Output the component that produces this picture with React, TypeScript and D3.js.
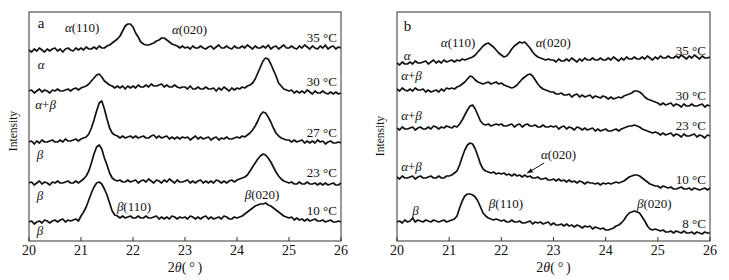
import React from 'react';
import * as d3 from 'd3';

const W = 729;
const H = 280;
const SERIF = "'Liberation Serif', 'Times New Roman', serif";

// 2θ sampling grid (degrees), 0.05° steps from 20 to 26
const twoTheta = d3.range(121).map((i) => 20 + i * 0.05);
const xTicks = [20, 21, 22, 23, 24, 25, 26];

// ---- Panel a: intensities (a.u., stacked) ----
const a35 = [
  191,189,192,190,193,191,189,192,190,192,193,190,192,189,192,193,191,190,193,191,
  193,191,194,192,192,194,192,195,193,193,
  195,196,198,200,202,205,
  210,215,217,217,214,
  208,204,199,197,196,196,
  197,198,200,201,203,203,201,199,
  197,196,195,193,195,193,
  194,192,195,193,193,195,193,192,194,195,192,194,196,193,193,195,193,192,195,193,
  193,195,193,196,194,192,195,193,193,195,193,196,192,194,195,192,194,196,193,193,
  195,193,192,195,193,196,194,192,195,193,192,195,193,196,192,194,195,192,194,193,
];
const a30 = [
  150,151,148,150,152,149,151,150,148,151,150,152,150,150,151,152,150,152,153,151,
  153,154,155,157,160,163,166,167,164,160,
  158,156,155,153,155,153,155,152,155,153,
  155,153,156,154,154,156,154,157,155,155,156,157,154,156,154,154,156,154,153,154,
  154,152,155,152,152,154,152,152,154,152,152,153,150,153,151,154,152,150,153,151,
  153,152,154,153,155,156,158,162,168,174,
  180,183,182,177,171,165,158,155,152,151,
  150,151,148,150,148,150,148,151,149,147,150,148,148,150,148,147,149,147,149,147,148,
];
const a27 = [
  99,100,97,100,98,101,99,99,100,101,99,99,101,99,102,100,100,101,102,100,
  102,103,104,107,113,121,130,138,140,132,
  122,113,108,106,105,103,105,103,104,105,
  103,105,103,104,105,103,103,105,106,103,105,103,104,105,102,104,102,104,102,104,
  103,104,101,103,105,102,104,102,103,104,101,103,104,101,103,102,104,102,102,103,
  104,103,105,104,106,108,111,115,120,126,
  129,128,124,119,113,108,105,103,102,101,
  101,99,101,99,100,101,98,100,98,100,98,101,99,100,97,99,100,98,98,99,98,
];
const a23 = [
  58,59,56,58,60,57,59,58,56,59,58,60,58,58,59,60,58,58,60,58,
  60,62,65,70,78,87,94,96,92,83,
  76,68,63,61,60,61,59,59,61,59,
  60,61,58,60,61,59,62,60,58,61,60,58,61,59,62,60,58,61,59,59,
  60,61,58,60,58,60,61,58,60,58,60,58,61,60,58,60,58,60,61,59,
  61,62,63,64,66,70,74,78,82,85,
  87,86,83,79,74,69,65,62,60,59,
  58,59,57,57,59,57,57,59,57,57,58,56,58,56,58,56,57,58,56,56,58,
];
const a10 = [
  19,20,17,19,20,18,21,20,18,20,21,19,21,22,19,21,20,21,22,20,
  25,29,34,41,48,54,58,59,57,52,
  46,38,30,26,25,23,25,23,24,25,
  23,23,25,23,23,25,23,23,24,25,22,24,22,24,22,25,24,22,24,23,
  24,22,25,24,22,24,22,24,25,22,24,22,23,24,22,25,24,22,22,24,
  23,24,25,27,29,31,33,35,36,37,
  37,38,36,35,33,31,29,27,25,24,
  23,24,21,23,21,22,20,22,20,21,22,20,20,21,19,20,21,19,19,20,19,
];

// ---- Panel b ----
const b35 = [
  178,176,179,177,177,179,177,180,178,178,179,180,177,179,181,178,180,178,181,179,
  180,181,179,181,180,182,181,182,183,184,
  186,189,192,195,197,198,196,194,191,188,
  186,184,185,188,192,195,197,199,198,199,
  196,193,189,186,184,183,182,181,182,181,
  181,179,182,180,180,182,180,183,181,179,182,180,183,181,181,183,181,181,183,181,
  181,183,181,184,182,180,183,181,184,182,182,184,182,182,184,182,185,183,181,184,
  182,185,183,183,185,183,183,185,183,186,184,182,185,183,186,184,182,185,183,183,184,
];
const b30 = [
  152,150,153,151,150,152,150,153,151,151,152,149,151,149,150,151,149,152,150,153,
  152,153,152,154,155,157,159,162,165,164,
  161,159,158,157,158,159,157,158,159,157,
  158,156,155,154,153,154,156,159,162,164,
  166,167,165,161,157,154,152,151,150,149,
  149,147,147,148,146,146,147,144,146,147,144,146,144,145,146,143,145,144,143,145,
  144,142,144,142,143,144,143,145,146,147,
  148,150,150,149,147,144,142,141,140,139,
  138,136,138,136,137,138,135,137,136,134,137,135,135,137,135,135,136,137,134,136,135,
];
const b23 = [
  113,111,114,112,112,113,114,111,113,114,112,112,114,112,115,114,112,114,113,115,
  114,113,115,114,117,121,126,131,135,136,
  132,126,120,117,116,117,115,116,117,116,
  117,115,115,116,117,114,116,117,114,116,117,115,115,116,114,114,116,114,114,115,
  114,115,112,114,115,112,114,113,111,114,113,111,113,111,112,113,110,112,110,111,
  112,110,110,111,112,110,112,113,114,115,
  115,116,115,114,112,111,110,109,108,109,
  108,106,108,106,107,108,105,107,106,104,107,105,105,106,107,104,106,105,103,106,105,
];
const b10 = [
  64,62,65,63,63,64,65,62,64,65,63,63,64,65,63,63,65,63,63,65,
  65,66,68,70,76,84,91,96,98,97,
  92,85,77,72,70,69,68,69,67,68,
  67,68,66,67,65,67,65,66,64,66,64,65,63,63,64,62,62,63,61,61,
  62,60,62,60,61,59,61,59,60,58,60,59,57,59,58,58,57,58,56,58,
  57,58,57,58,59,58,59,60,62,64,
  65,66,66,65,63,61,59,57,56,55,
  55,53,55,54,53,54,52,52,53,54,52,52,53,51,53,52,51,52,53,51,53,
];
const b8 = [
  19,20,18,21,19,20,23,19,21,20,19,21,20,19,21,20,19,20,21,19,
  20,21,22,25,33,40,45,47,47,46,
  44,40,34,28,25,23,22,21,22,21,
  20,21,19,19,21,19,19,20,18,18,19,20,17,19,18,19,17,18,19,16,
  18,16,16,17,15,17,15,16,14,16,15,13,15,14,15,12,14,13,12,13,
  11,11,12,13,15,16,18,21,25,28,29,30,29,28,24,20,15,12,11,12,
  11,10,11,9,9,10,8,10,9,8,10,8,8,9,7,9,8,7,9,8,8,
];

const tempsA = ['35 °C', '30 °C', '27 °C', '23 °C', '10 °C'];
const tempsB = ['35 °C', '30 °C', '23 °C', '10 °C', '8 °C'];
const phasesA = ['α', 'α+β', 'β', 'β', 'β'];
const phasesB = ['α', 'α+β', 'α+β', 'α+β', 'β'];
const peakNames = ['α(110)', 'α(020)', 'β(110)', 'β(020)'];

// ---- layout (annotation anchors in data coordinates: [2θ, intensity]) ----
const Y_MAX = 229;
const tempPosA = [199, 155, 104, 64, 26];
const tempPosB = [186, 141, 111, 57, 13];
const phasePosA: [number, number][] = [[20.17, 172], [20.12, 132], [20.15, 82], [20.15, 41], [20.15, 6]];
const phasePosB: [number, number][] = [[20.13, 181.5], [20.08, 161], [20.08, 121], [20.08, 70], [20.29, 26.5]];

type Panel = {
  letter: string;
  left: number;
  right: number;
  curves: number[][];
  temps: string[];
  tempPos: number[];
  phases: string[];
  phasePos: [number, number][];
  letterPos: [number, number];
  peaks: { text: string; at: [number, number] }[];
  arrow?: { from: [number, number]; to: [number, number] };
  yTitleX: number;
  yTitleY: number;
};

const panels: Panel[] = [
  {
    letter: 'a',
    left: 29,
    right: 341,
    curves: [a35, a30, a27, a23, a10],
    temps: tempsA,
    tempPos: tempPosA,
    phases: phasesA,
    phasePos: phasePosA,
    letterPos: [20.17, 213],
    peaks: [
      { text: peakNames[0], at: [20.69, 209] },
      { text: peakNames[1], at: [22.75, 207] },
      { text: peakNames[2], at: [21.69, 30] },
      { text: peakNames[3], at: [24.15, 42] },
    ],
    yTitleX: 16.5,
    yTitleY: 131,
  },
  {
    letter: 'b',
    left: 397,
    right: 710,
    curves: [b35, b30, b23, b10, b8],
    temps: tempsB,
    tempPos: tempPosB,
    phases: phasesB,
    phasePos: phasePosB,
    letterPos: [20.13, 210],
    peaks: [
      { text: peakNames[0], at: [20.84, 194] },
      { text: peakNames[1], at: [22.66, 194] },
      { text: peakNames[1], at: [22.76, 82] },
      { text: peakNames[2], at: [21.76, 33] },
      { text: peakNames[3], at: [24.6, 33] },
    ],
    arrow: { from: [22.82, 78], to: [22.5, 68] },
    yTitleX: 383.5,
    yTitleY: 136,
  },
];

const TOP = 12;
const BOTTOM = 241;

function Rich({ text, ...rest }: any) {
  const parts = text.split(/([αβθ])/).filter((p: string) => p.length > 0);
  return (
    <text {...rest}>
      {parts.map((p: string, i: number) =>
        /[αβθ]/.test(p) ? (
          <tspan key={i} fontStyle="italic">{p}</tspan>
        ) : (
          <tspan key={i}>{p}</tspan>
        )
      )}
    </text>
  );
}

function PanelView({ p }: { p: Panel }) {
  const x = d3.scaleLinear().domain([20, 26]).range([p.left, p.right]);
  const y = d3.scaleLinear().domain([0, Y_MAX]).range([BOTTOM, TOP]);
  const line = d3
    .line<number>()
    .x((_, i) => x(twoTheta[i]))
    .y((d) => y(d));
  const cx = (p.left + p.right) / 2;
  return (
    <g>
      {p.curves.map((c, i) => (
        <path
          key={i}
          d={line(c) || ''}
          fill="none"
          stroke="#111"
          strokeWidth={1.7}
          strokeLinejoin="round"
        />
      ))}
      <rect
        x={p.left}
        y={TOP}
        width={p.right - p.left}
        height={BOTTOM - TOP}
        fill="none"
        stroke="#333"
        strokeWidth={1}
      />
      {xTicks.map((t) => (
        <g key={t}>
          <line x1={x(t)} x2={x(t)} y1={BOTTOM} y2={BOTTOM - 4} stroke="#333" strokeWidth={1} />
          <text x={x(t)} y={255} textAnchor="middle" fontSize={14} fill="#111">
            {t}
          </text>
        </g>
      ))}
      <text x={cx} y={272} textAnchor="middle" fontSize={14} fill="#111">
        <tspan>2</tspan>
        <tspan fontStyle="italic">θ</tspan>
        <tspan>(&#8201;°&#8201;)</tspan>
      </text>
      <text
        transform={`translate(${p.yTitleX},${p.yTitleY}) rotate(-90)`}
        textAnchor="middle"
        fontSize={11.5}
        fill="#111"
      >
        Intensity
      </text>
      <text x={x(p.letterPos[0])} y={y(p.letterPos[1])} fontSize={15} fill="#111">
        {p.letter}
      </text>
      {p.temps.map((t, i) => (
        <text key={t} x={x(25.92)} y={y(p.tempPos[i])} textAnchor="end" fontSize={13} fill="#111">
          {t}
        </text>
      ))}
      {p.phases.map((ph, i) => (
        <Rich
          key={i}
          text={ph}
          x={x(p.phasePos[i][0])}
          y={y(p.phasePos[i][1])}
          fontSize={13}
          fill="#111"
        />
      ))}
      {p.peaks.map((pk, i) => (
        <Rich key={i} text={pk.text} x={x(pk.at[0])} y={y(pk.at[1])} fontSize={13} fill="#111" />
      ))}
      {p.arrow && (
        <line
          x1={x(p.arrow.from[0])}
          y1={y(p.arrow.from[1])}
          x2={x(p.arrow.to[0])}
          y2={y(p.arrow.to[1])}
          stroke="#111"
          strokeWidth={1}
          markerEnd="url(#arrowHead)"
        />
      )}
    </g>
  );
}

export default function App() {
  return (
    <svg
      width={W}
      height={H}
      viewBox={`0 0 ${W} ${H}`}
      style={{ position: 'absolute', left: 0, top: 0, background: '#fff', fontFamily: SERIF }}
    >
      <defs>
        <marker
          id="arrowHead"
          viewBox="0 0 10 10"
          refX={9}
          refY={5}
          markerWidth={6}
          markerHeight={6}
          orient="auto"
        >
          <path d="M0,1 L10,5 L0,9 Z" fill="#111" />
        </marker>
      </defs>
      <rect x={0} y={0} width={W} height={H} fill="#fff" />
      {panels.map((p) => (
        <PanelView key={p.letter} p={p} />
      ))}
    </svg>
  );
}
